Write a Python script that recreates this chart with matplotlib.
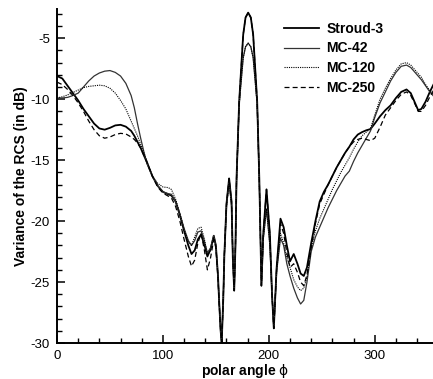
import matplotlib
matplotlib.use("Agg")
import matplotlib.pyplot as plt

# ---------------- data ----------------
phi = [0, 5, 10, 15, 20, 25, 30, 35, 40, 45, 50, 55, 60, 65, 70, 73, 76, 79, 82, 85,
       90, 95, 100, 105, 108, 112, 116, 120, 124, 127, 130, 133, 136, 139, 142, 145,
       148, 150, 152, 153.1, 154.5, 155.5, 157, 158, 160, 162.5, 164.8, 166, 167.3,
       168.5, 169.5, 172, 175.8, 178, 180.5, 183, 185.2, 189, 191, 193, 194.7, 197.8,
       201, 203, 204.7, 207.3, 211, 214, 217, 220, 223.5, 227, 230, 233, 236, 240,
       244, 248, 252, 256, 260, 264, 268, 272, 276, 280, 284, 288, 292, 296, 300,
       305, 310, 315, 320, 325, 330, 334, 338, 341, 344, 348, 352, 356]

stroud3 = [-8.1, -8.3, -8.9, -9.5, -10.1, -10.8, -11.4, -12.0, -12.4, -12.5, -12.35, -12.15,
           -12.1, -12.25, -12.6, -13.0, -13.5, -14.0, -14.6, -15.2, -16.3, -17.1, -17.6,
           -17.8, -17.9, -18.4, -19.5, -20.8, -22.0, -22.7, -22.4, -21.5, -21.1, -21.9,
           -22.9, -22.3, -21.2, -22.0, -24.5, -26.6, -29.0, -30.0, -26.3, -22.8, -18.6,
           -16.5, -18.4, -23.0, -25.7, -22.0, -16.5, -10.2, -4.7, -3.3, -2.9, -3.3, -4.7,
           -10.2, -16.5, -25.3, -21.1, -17.4, -21.1, -26.0, -28.8, -23.9, -19.8, -20.5,
           -22.0, -23.3, -22.7, -23.5, -24.3, -24.5, -23.8, -21.8, -20.0, -18.4, -17.6,
           -17.0, -16.3, -15.6, -15.0, -14.4, -13.9, -13.3, -12.9, -12.7, -12.55, -12.45,
           -12.0, -11.4, -10.9, -10.5, -9.9, -9.4, -9.2, -9.5, -10.3, -10.9, -10.8,
           -10.2, -9.4, -8.7]

mc42 = [-9.9, -9.9, -9.85, -9.7, -9.5, -9.0, -8.5, -8.1, -7.85, -7.7, -7.65, -7.8, -8.1,
        -8.7, -9.7, -10.7, -12.0, -13.2, -14.3, -15.3, -16.3, -17.1, -17.6, -17.75, -17.8,
        -18.4, -19.4, -20.6, -21.6, -22.0, -21.6, -20.9, -20.8, -21.6, -22.6, -22.2,
        -21.2, -22.0, -24.5, -26.6, -29.0, -30.0, -26.3, -22.8, -18.8, -16.8, -18.7,
        -23.0, -25.7, -22.0, -16.8, -10.4, -6.6, -5.7, -5.4, -5.7, -6.6, -10.4, -16.8,
        -25.3, -21.5, -19.0, -22.0, -26.0, -28.8, -24.2, -21.4, -22.0, -23.5, -24.5,
        -25.5, -26.3, -26.8, -26.5, -25.0, -22.5, -21.3, -20.5, -19.7, -18.9, -18.2,
        -17.5, -16.9, -16.3, -15.9, -15.1, -14.4, -13.8, -13.2, -12.6, -11.5, -10.3,
        -9.4, -8.5, -7.8, -7.3, -7.2, -7.4, -7.8, -8.1, -8.4, -8.9, -9.4, -9.8]

mc120 = [-9.9, -9.8, -9.65, -9.45, -9.25, -9.05, -8.95, -8.9, -8.85, -8.9, -9.1, -9.5,
         -10.1, -10.8, -11.8, -12.4, -13.0, -13.7, -14.4, -15.1, -16.3, -16.9, -17.2,
         -17.25, -17.4, -18.2, -19.4, -20.7, -21.7, -22.0, -21.3, -20.6, -20.5, -21.4,
         -22.8, -22.4, -21.3, -22.0, -24.5, -26.6, -29.0, -30.0, -26.3, -22.8, -18.8,
         -16.8, -18.7, -23.0, -25.7, -22.0, -16.8, -10.4, -6.6, -5.7, -5.4, -5.7, -6.6,
         -10.4, -16.8, -25.3, -21.5, -19.0, -22.0, -26.0, -28.8, -24.2, -21.0, -21.8,
         -23.0, -23.8, -24.8, -25.4, -25.7, -25.5, -24.6, -22.2, -20.8, -19.8, -19.0,
         -18.2, -17.4, -16.7, -16.0, -15.4, -14.8, -14.1, -13.5, -13.0, -12.7, -12.4,
         -11.3, -10.0, -9.1, -8.3, -7.6, -7.1, -7.0, -7.2, -7.6, -7.9, -8.2, -8.8,
         -9.3, -9.7]

mc250 = [-8.6, -8.8, -9.2, -9.7, -10.3, -11.0, -11.8, -12.5, -13.0, -13.2, -13.1, -12.9,
         -12.8, -12.85, -13.1, -13.3, -13.6, -14.0, -14.6, -15.2, -16.3, -17.2, -17.7,
         -17.95, -18.1, -18.8, -20.0, -21.5, -22.9, -23.7, -23.2, -21.8, -21.0, -22.3,
         -24.0, -23.0, -21.5, -22.2, -24.7, -26.8, -29.0, -30.0, -26.3, -22.8, -18.6,
         -16.5, -18.4, -23.0, -25.7, -22.0, -16.5, -10.2, -4.7, -3.3, -2.9, -3.3, -4.7,
         -10.2, -16.5, -25.3, -21.1, -17.4, -21.1, -26.0, -28.8, -23.9, -20.2, -21.0,
         -22.6, -23.8, -23.5, -24.2, -25.0, -25.3, -24.4, -22.2, -20.2, -18.6, -17.8,
         -17.0, -16.3, -15.6, -15.0, -14.4, -13.9, -13.5, -13.3, -13.2, -13.3, -13.4,
         -13.2, -12.3, -11.3, -10.7, -10.1, -9.6, -9.4, -9.7, -10.4, -11.0, -11.0,
         -10.5, -9.8, -9.2]

labels = ["Stroud-3", "MC-42", "MC-120", "MC-250"]
xticks = [0, 100, 200, 300]
yticks = [-30, -25, -20, -15, -10, -5]

# ---------------- figure ----------------
plt.rcParams['font.family'] = ['Liberation Sans', 'DejaVu Sans']
plt.rcParams['mathtext.fontset'] = 'dejavusans'
plt.rcParams['axes.unicode_minus'] = False

fig = plt.figure(figsize=(4.33, 3.79), dpi=100)
ax = fig.add_axes([57 / 433, 36 / 379, 376 / 433, 334 / 379])

ax.plot(phi, stroud3, color='black', lw=1.3, ls='-', label=labels[0])
ax.plot(phi, mc42, color='0.2', lw=0.9, ls='-', label=labels[1])
ax.plot(phi, mc120, color='black', lw=0.8, ls=(0, (1, 1)), label=labels[2])
ax.plot(phi, mc250, color='black', lw=0.9, ls=(0, (4, 2.5)), label=labels[3])

ax.set_xlim(0, 355)
ax.set_ylim(-30, -2.6)
ax.set_xticks(xticks)
ax.set_yticks(yticks)
ax.set_xticks(range(0, 356, 20), minor=True)
ax.set_yticks(range(-30, -2, 1), minor=True)

for s in ['top', 'right']:
    ax.spines[s].set_visible(False)
for s in ['left', 'bottom']:
    ax.spines[s].set_linewidth(1.4)

ax.tick_params(which='major', direction='in', length=6, width=1.1, labelsize=9.5, pad=5)
ax.tick_params(which='minor', direction='in', length=3.5, width=1.0)

ax.set_xlabel('polar angle $\\mathrm{\\phi}$', fontsize=10, fontweight='bold', labelpad=0)
ax.set_ylabel('Variance of the RCS (in dB)', fontsize=10, fontweight='bold', labelpad=2)

leg = ax.legend(loc='upper left', bbox_to_anchor=(277 / 433, 1 - 15 / 379),
                bbox_transform=fig.transFigure, frameon=False, borderpad=0,
                handlelength=2.5, handletextpad=0.55, labelspacing=0.4,
                prop={'weight': 'bold', 'size': 10})

fig.savefig('out.png', dpi=100)
